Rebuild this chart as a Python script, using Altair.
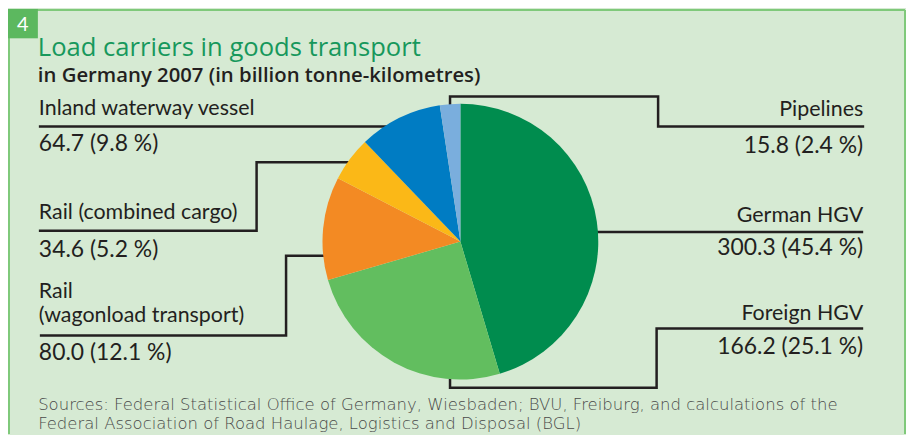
import altair as alt
import pandas as pd

# ---------------- data ----------------
names = ["German HGV", "Foreign HGV", "Rail (wagonload transport)",
         "Rail (combined cargo)", "Inland waterway vessel", "Pipelines"]
label_names = ["German HGV", "Foreign HGV", "Rail\n(wagonload transport)",
               "Rail (combined cargo)", "Inland waterway vessel", "Pipelines"]
values = [300.3, 166.2, 80.0, 34.6, 64.7, 15.8]          # billion tonne-km
percents = ["45.4", "25.1", "12.1", "5.2", "9.8", "2.4"]
colors = ["#008c4e", "#62be5f", "#f38a23", "#fbb817", "#007cc3", "#7aaedd"]

title_text = "Load carriers in goods transport"
subtitle_text = "in Germany 2007 (in billion tonne-kilometres)"
source_lines = [
    "Sources: Federal Statistical Office of Germany, Wiesbaden; BVU, Freiburg, and calculations of the",
    "Federal Association of Road Haulage, Logistics and Disposal (BGL)",
]
box_number = "4"

# ---------------- layout (pixels) ----------------
W, H = 902, 427
CX, CY, R = 454.4, 233.7, 138.5
FONT = "Lato"
FONT2 = "Open Sans"
FONT3 = "DejaVu Sans"
BG = "#d6ead3"
FRAME = "#7fc97a"
INK = "#231f20"

# label anchors: (side, x, name baseline, value baseline)
label_pos = {
    "German HGV": ("right", 859, 213.7, 247),
    "Foreign HGV": ("right", 859, 312, 347),
    "Rail (wagonload transport)": ("left", 31, 290.2, 353),
    "Rail (combined cargo)": ("left", 31, 211, 248.7),
    "Inland waterway vessel": ("left", 31, 107, 143),
    "Pipelines": ("right", 859, 108, 144.7),
}
# leader polylines
leaders = {
    "Pipelines": [(444, 112), (444, 88), (653, 88), (653, 118), (860, 118)],
    "German HGV": [(570, 224), (859, 224)],
    "Foreign HGV": [(444, 355), (444, 380.5), (651.5, 380.5), (651.5, 321), (859, 321)],
    "Inland waterway vessel": [(31, 118), (400, 118)],
    "Rail (combined cargo)": [(365, 154), (249.7, 154), (249.7, 222.7), (31, 222.7)],
    "Rail (wagonload transport)": [(345, 248), (279.3, 248), (279.3, 328), (32, 328)],
}

xs = alt.Scale(domain=[0, W], range=[0, W], nice=False, zero=False)
ys = alt.Scale(domain=[0, H], range=[0, H], nice=False, zero=False)


def X(f):
    return alt.X(f, type="quantitative", scale=xs, axis=None)


def Y(f):
    return alt.Y(f, type="quantitative", scale=ys, axis=None)


# ---------------- tables ----------------
pie_df = pd.DataFrame({"name": names, "value": values, "order": list(range(len(names)))})

line_rows = []
for seg, pts in leaders.items():
    for i, (px, py) in enumerate(pts):
        line_rows.append({"seg": seg, "i": i, "x": px, "y": py})
line_df = pd.DataFrame(line_rows)

lab_rows = []
for n, ln, v, p in zip(names, label_names, values, percents):
    side, lx, yn, yv = label_pos[n]
    lab_rows.append({"side": side, "kind": "name", "x": lx, "y": yn, "t": ln})
    lab_rows.append({"side": side, "kind": "value", "x": lx, "y": yv, "t": f"{v:.1f} ({p} %)"})
lab_df = pd.DataFrame(lab_rows)

frame_df = pd.DataFrame({
    "x": [1, 1, W - 1], "y": [1, 1, 1], "x2": [W - 1, 1, W - 1], "y2": [1, H, H]
})

# ---------------- layers ----------------
frame = alt.Chart(frame_df).mark_rule(color=FRAME, strokeWidth=2).encode(
    x=X("x"), y=Y("y"), x2="x2", y2="y2")

box = alt.Chart(pd.DataFrame({"x": [0], "y": [0], "x2": [30], "y2": [29.5]})).mark_rect(
    color="#5cb85f").encode(x=X("x"), y=Y("y"), x2="x2", y2="y2")
box_txt = alt.Chart(pd.DataFrame({"x": [14.8], "y": [22], "t": [box_number]})).mark_text(
    font=FONT, fontSize=20, color="white", align="center", baseline="alphabetic").encode(
    x=X("x"), y=Y("y"), text="t")

title = alt.Chart(pd.DataFrame({"x": [30], "y": [47], "t": [title_text]})).mark_text(
    font=FONT2, fontSize=25.7, color="#17985c", align="left", baseline="alphabetic").encode(
    x=X("x"), y=Y("y"), text="t")
subtitle = alt.Chart(pd.DataFrame({"x": [30], "y": [73.7], "t": [subtitle_text]})).mark_text(
    font=FONT2, fontSize=20.4, fontWeight=600, color=INK, align="left", baseline="alphabetic").encode(
    x=X("x"), y=Y("y"), text="t")

lines = alt.Chart(line_df).mark_line(color=INK, strokeWidth=2.5, strokeJoin="miter",
                                     strokeCap="butt").encode(
    x=X("x"), y=Y("y"), detail="seg:N", order="i:Q")

pie = alt.Chart(pie_df).mark_arc(radius=R).encode(
    theta=alt.Theta("value:Q", stack=True),
    order=alt.Order("order:Q"),
    color=alt.Color("name:N", scale=alt.Scale(domain=names, range=colors), legend=None),
    x=alt.value(CX), y=alt.value(CY))


def labels(side, kind, size):
    return alt.Chart(lab_df).transform_filter(
        (alt.datum.side == side) & (alt.datum.kind == kind)).mark_text(
        font=FONT, fontSize=size, color=INK, align=side, baseline="alphabetic",
        lineBreak="\n", lineHeight=24.5).encode(x=X("x"), y=Y("y"), text="t")


label_layers = [labels(s, k, 21.5 if k == "name" else 23)
                for s in ("left", "right") for k in ("name", "value")]

src = alt.Chart(pd.DataFrame({"x": [30.3, 30.3], "y": [402.7, 422.2], "t": source_lines})).mark_text(
    font=FONT3, fontSize=16.55, fontWeight=200, color="#4a4a4a", align="left",
    baseline="alphabetic").encode(x=X("x"), y=Y("y"), text="t")

chart = alt.layer(frame, box, box_txt, title, subtitle, lines, pie, *label_layers, src).properties(
    width=W, height=H, padding=0, background=BG,
    autosize=alt.AutoSizeParams(type="none"),
).configure_view(stroke=None)

chart.save("out.html", embed_options={"renderer": "svg", "actions": False})
